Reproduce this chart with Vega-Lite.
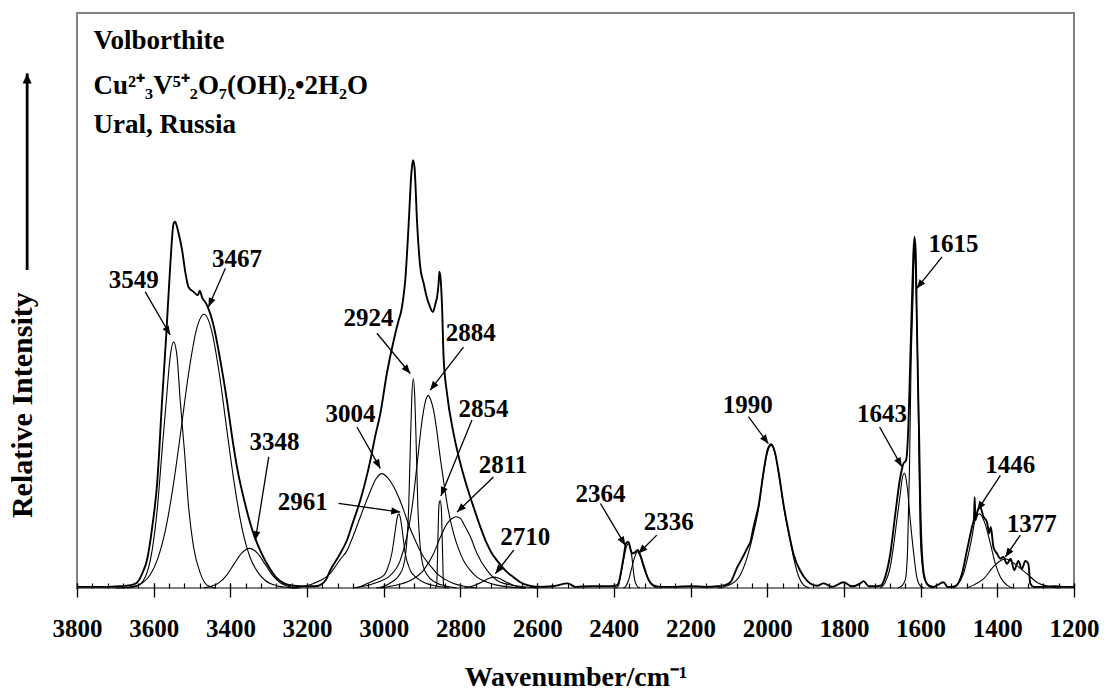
{
  "$schema": "https://vega.github.io/schema/vega-lite/v6.json",
  "width": 997,
  "height": 575,
  "autosize": {"type": "none"},
  "padding": {"left": 77, "top": 13, "right": 31, "bottom": 105},
  "background": "white",
  "config": {
    "view": {"stroke": "#808080", "strokeWidth": 2},
    "axis": {"labelFont": "Liberation Serif", "titleFont": "Liberation Serif"}
  },
  "resolve": {"axis": {"x": "independent"}},
  "datasets": {
    "spectrum": [
      {"wn":3800,"i":0.2},{"wn":3760,"i":0.2},{"wn":3720,"i":0.2},{"wn":3690,"i":0.3},{"wn":3660,"i":0.5},{"wn":3644,"i":0.9},{"wn":3630,"i":2.5},{"wn":3617,"i":5.0},{"wn":3604,"i":10.5},{"wn":3591,"i":18.2},{"wn":3578,"i":32.7},{"wn":3567,"i":44.3},{"wn":3557,"i":55.9},{"wn":3548,"i":63.4},{"wn":3544,"i":63.7},{"wn":3540,"i":63},{"wn":3535,"i":61.7},{"wn":3526,"i":58.8},{"wn":3517,"i":54.7},{"wn":3509,"i":52.3},{"wn":3496,"i":51.5},{"wn":3485,"i":50.9},{"wn":3480,"i":51.7},{"wn":3474,"i":50.6},{"wn":3461,"i":49.2},{"wn":3443,"i":45.4},{"wn":3426,"i":39.5},{"wn":3409,"i":32.6},{"wn":3396,"i":26.5},{"wn":3383,"i":21.1},{"wn":3360,"i":14.2},{"wn":3340,"i":9.5},{"wn":3320,"i":6.2},{"wn":3300,"i":3.7},{"wn":3280,"i":1.8},{"wn":3260,"i":0.8},{"wn":3235,"i":0.4},{"wn":3200,"i":0.3},{"wn":3180,"i":0.3},{"wn":3166,"i":0.5},{"wn":3150,"i":1.5},{"wn":3140,"i":3.0},{"wn":3118,"i":5.5},{"wn":3096,"i":8.3},{"wn":3080,"i":11.5},{"wn":3061,"i":15.3},{"wn":3048,"i":18.5},{"wn":3035,"i":22.2},{"wn":3022,"i":26.5},{"wn":3009,"i":30.3},{"wn":2992,"i":37.3},{"wn":2974,"i":43.1},{"wn":2961,"i":46.6},{"wn":2955,"i":48},{"wn":2950,"i":50},{"wn":2944,"i":53.5},{"wn":2935,"i":63.4},{"wn":2928,"i":72.1},{"wn":2924,"i":74.4},{"wn":2920,"i":73.3},{"wn":2913,"i":63.4},{"wn":2905,"i":55.9},{"wn":2896,"i":53},{"wn":2888,"i":50.6},{"wn":2880,"i":49},{"wn":2872,"i":48},{"wn":2865,"i":49.5},{"wn":2861,"i":50.6},{"wn":2857,"i":53},{"wn":2855,"i":55},{"wn":2852,"i":54},{"wn":2848,"i":48.9},{"wn":2844,"i":40.2},{"wn":2835,"i":33.8},{"wn":2818,"i":26.9},{"wn":2800,"i":21.6},{"wn":2783,"i":17.6},{"wn":2766,"i":14.1},{"wn":2748,"i":10.6},{"wn":2731,"i":7.7},{"wn":2718,"i":6},{"wn":2705,"i":4.8},{"wn":2690,"i":3.6},{"wn":2679,"i":2.8},{"wn":2660,"i":1.8},{"wn":2644,"i":1.0},{"wn":2620,"i":0.4},{"wn":2600,"i":0.2},{"wn":2560,"i":0.3},{"wn":2520,"i":0.8},{"wn":2500,"i":0.2},{"wn":2460,"i":0.3},{"wn":2420,"i":0.3},{"wn":2395,"i":0.4},{"wn":2388,"i":0.8},{"wn":2383,"i":2.2},{"wn":2375,"i":5.2},{"wn":2368,"i":7.8},{"wn":2362,"i":8.0},{"wn":2356,"i":6.6},{"wn":2352,"i":6.0},{"wn":2345,"i":6.2},{"wn":2338,"i":6.6},{"wn":2331,"i":5.7},{"wn":2322,"i":3.8},{"wn":2309,"i":1.4},{"wn":2295,"i":0.4},{"wn":2280,"i":0.2},{"wn":2240,"i":0.2},{"wn":2200,"i":0.3},{"wn":2160,"i":0.2},{"wn":2130,"i":0.3},{"wn":2110,"i":0.5},{"wn":2096,"i":1.0},{"wn":2079,"i":3.5},{"wn":2062,"i":5.6},{"wn":2050,"i":7.2},{"wn":2044,"i":8.0},{"wn":2036,"i":10.5},{"wn":2022,"i":14.5},{"wn":2010,"i":20},{"wn":2000,"i":23.8},{"wn":1990,"i":25},{"wn":1980,"i":23.6},{"wn":1970,"i":20},{"wn":1957,"i":14.3},{"wn":1944,"i":9.7},{"wn":1931,"i":5.8},{"wn":1914,"i":3.0},{"wn":1895,"i":1.2},{"wn":1870,"i":0.4},{"wn":1853,"i":0.8},{"wn":1830,"i":0.2},{"wn":1801,"i":1.0},{"wn":1780,"i":0.3},{"wn":1757,"i":0.8},{"wn":1749,"i":1.2},{"wn":1735,"i":0.3},{"wn":1720,"i":0.3},{"wn":1705,"i":0.4},{"wn":1692,"i":2.0},{"wn":1679,"i":6.0},{"wn":1666,"i":12.9},{"wn":1653,"i":19.3},{"wn":1645,"i":21.6},{"wn":1638,"i":22.2},{"wn":1632,"i":28},{"wn":1627,"i":39.6},{"wn":1623,"i":48.9},{"wn":1619,"i":58},{"wn":1616,"i":61.1},{"wn":1613,"i":58.7},{"wn":1610,"i":47.2},{"wn":1607,"i":36},{"wn":1604,"i":26.9},{"wn":1601,"i":15.3},{"wn":1597,"i":6.6},{"wn":1590,"i":1.9},{"wn":1580,"i":0.5},{"wn":1566,"i":0.2},{"wn":1540,"i":1.0},{"wn":1530,"i":0.2},{"wn":1520,"i":0.2},{"wn":1510,"i":0.3},{"wn":1492,"i":2.5},{"wn":1479,"i":6.6},{"wn":1466,"i":10.6},{"wn":1461,"i":12},{"wn":1459,"i":15.8},{"wn":1457,"i":11.8},{"wn":1451,"i":13.5},{"wn":1445,"i":14.1},{"wn":1436,"i":12.4},{"wn":1427,"i":11.5},{"wn":1421,"i":9.5},{"wn":1417,"i":10.6},{"wn":1410,"i":7.1},{"wn":1401,"i":6},{"wn":1392,"i":5.1},{"wn":1384,"i":5.4},{"wn":1375,"i":4.2},{"wn":1365,"i":5.1},{"wn":1356,"i":3.1},{"wn":1345,"i":4.7},{"wn":1336,"i":3.3},{"wn":1327,"i":4.7},{"wn":1319,"i":4.2},{"wn":1314,"i":0.8},{"wn":1305,"i":0.2},{"wn":1280,"i":0.2},{"wn":1250,"i":0.3},{"wn":1230,"i":0.2},{"wn":1200,"i":0.2}
    ],
    "bands": [
      {"band":"3549","wn":3670,"i":0},{"band":"3549","wn":3644,"i":0.3},{"band":"3549","wn":3622,"i":1.9},{"band":"3549","wn":3604,"i":6.6},{"band":"3549","wn":3591,"i":13.5},{"band":"3549","wn":3578,"i":24},{"band":"3549","wn":3567,"i":32.7},{"band":"3549","wn":3557,"i":40.2},{"band":"3549","wn":3548,"i":42.8},{"band":"3549","wn":3539,"i":40.2},{"band":"3549","wn":3531,"i":32.7},{"band":"3549","wn":3520,"i":24},{"band":"3549","wn":3509,"i":14.1},{"band":"3549","wn":3496,"i":7.1},{"band":"3549","wn":3478,"i":2.5},{"band":"3549","wn":3461,"i":0.5},{"band":"3549","wn":3440,"i":0},
      {"band":"3467","wn":3700,"i":0},{"band":"3467","wn":3659,"i":0.2},{"band":"3467","wn":3629,"i":0.9},{"band":"3467","wn":3609,"i":2.3},{"band":"3467","wn":3589,"i":5.2},{"band":"3467","wn":3569,"i":10.2},{"band":"3467","wn":3549,"i":17.8},{"band":"3467","wn":3529,"i":27.4},{"band":"3467","wn":3509,"i":37.3},{"band":"3467","wn":3489,"i":44.8},{"band":"3467","wn":3469,"i":47.6},{"band":"3467","wn":3449,"i":44.8},{"band":"3467","wn":3429,"i":37.3},{"band":"3467","wn":3409,"i":27.4},{"band":"3467","wn":3389,"i":17.8},{"band":"3467","wn":3369,"i":10.2},{"band":"3467","wn":3349,"i":5.4},{"band":"3467","wn":3329,"i":2.8},{"band":"3467","wn":3309,"i":1.3},{"band":"3467","wn":3279,"i":0.4},{"band":"3467","wn":3249,"i":0.1},{"band":"3467","wn":3220,"i":0},
      {"band":"3348","wn":3470,"i":0},{"band":"3348","wn":3450,"i":0.3},{"band":"3348","wn":3430,"i":0.9},{"band":"3348","wn":3410,"i":2.2},{"band":"3348","wn":3390,"i":4.2},{"band":"3348","wn":3370,"i":6.1},{"band":"3348","wn":3350,"i":6.9},{"band":"3348","wn":3330,"i":6.1},{"band":"3348","wn":3310,"i":4.2},{"band":"3348","wn":3290,"i":2.2},{"band":"3348","wn":3270,"i":0.9},{"band":"3348","wn":3250,"i":0.3},{"band":"3348","wn":3230,"i":0},
      {"band":"3004","wn":3240,"i":0},{"band":"3004","wn":3183,"i":0.8},{"band":"3004","wn":3140,"i":2.5},{"band":"3004","wn":3113,"i":5},{"band":"3004","wn":3096,"i":6.5},{"band":"3004","wn":3080,"i":9},{"band":"3004","wn":3061,"i":12.4},{"band":"3004","wn":3040,"i":16},{"band":"3004","wn":3020,"i":19},{"band":"3004","wn":3005,"i":19.9},{"band":"3004","wn":2990,"i":19.2},{"band":"3004","wn":2974,"i":17.6},{"band":"3004","wn":2960,"i":15.6},{"band":"3004","wn":2948,"i":13.5},{"band":"3004","wn":2935,"i":11},{"band":"3004","wn":2922,"i":8.9},{"band":"3004","wn":2909,"i":7},{"band":"3004","wn":2896,"i":5.4},{"band":"3004","wn":2880,"i":4},{"band":"3004","wn":2861,"i":2.5},{"band":"3004","wn":2840,"i":1.5},{"band":"3004","wn":2818,"i":0.8},{"band":"3004","wn":2790,"i":0.3},{"band":"3004","wn":2760,"i":0},
      {"band":"2961","wn":3070,"i":0},{"band":"2961","wn":3026,"i":1.3},{"band":"2961","wn":3000,"i":2.2},{"band":"2961","wn":2992,"i":3.1},{"band":"2961","wn":2979,"i":6},{"band":"2961","wn":2970,"i":10},{"band":"2961","wn":2965,"i":12.2},{"band":"2961","wn":2961,"i":12.9},{"band":"2961","wn":2957,"i":12.3},{"band":"2961","wn":2953,"i":10.6},{"band":"2961","wn":2944,"i":6},{"band":"2961","wn":2931,"i":3.1},{"band":"2961","wn":2915,"i":1.8},{"band":"2961","wn":2896,"i":1},{"band":"2961","wn":2860,"i":0.3},{"band":"2961","wn":2830,"i":0},
      {"band":"2924","wn":3020,"i":0},{"band":"2924","wn":3000,"i":0.3},{"band":"2924","wn":2980,"i":1},{"band":"2924","wn":2960,"i":2.2},{"band":"2924","wn":2948,"i":4},{"band":"2924","wn":2940,"i":8},{"band":"2924","wn":2935,"i":14},{"band":"2924","wn":2931,"i":24},{"band":"2924","wn":2927,"i":33},{"band":"2924","wn":2923,"i":36.4},{"band":"2924","wn":2919,"i":33},{"band":"2924","wn":2915,"i":24},{"band":"2924","wn":2911,"i":14},{"band":"2924","wn":2906,"i":8},{"band":"2924","wn":2898,"i":4},{"band":"2924","wn":2886,"i":2.2},{"band":"2924","wn":2866,"i":1},{"band":"2924","wn":2836,"i":0.3},{"band":"2924","wn":2810,"i":0},
      {"band":"2884","wn":3080,"i":0},{"band":"2884","wn":3026,"i":0.8},{"band":"2884","wn":2983,"i":2.2},{"band":"2884","wn":2957,"i":4.8},{"band":"2884","wn":2940,"i":8.9},{"band":"2884","wn":2926,"i":14.1},{"band":"2884","wn":2913,"i":21.6},{"band":"2884","wn":2900,"i":29.2},{"band":"2884","wn":2892,"i":32.3},{"band":"2884","wn":2884,"i":33.5},{"band":"2884","wn":2877,"i":32.6},{"band":"2884","wn":2870,"i":30.9},{"band":"2884","wn":2862,"i":27.5},{"band":"2884","wn":2853,"i":22.8},{"band":"2884","wn":2844,"i":18.6},{"band":"2884","wn":2835,"i":14.7},{"band":"2884","wn":2818,"i":9.5},{"band":"2884","wn":2805,"i":6.8},{"band":"2884","wn":2792,"i":4.8},{"band":"2884","wn":2775,"i":3.1},{"band":"2884","wn":2757,"i":1.9},{"band":"2884","wn":2730,"i":1},{"band":"2884","wn":2705,"i":0.5},{"band":"2884","wn":2660,"i":0.1},{"band":"2884","wn":2630,"i":0},
      {"band":"2854","wn":2866,"i":0},{"band":"2854","wn":2862,"i":0.5},{"band":"2854","wn":2859,"i":8},{"band":"2854","wn":2856,"i":14.5},{"band":"2854","wn":2853,"i":15.2},{"band":"2854","wn":2850,"i":14},{"band":"2854","wn":2847,"i":7},{"band":"2854","wn":2844,"i":0.5},{"band":"2854","wn":2840,"i":0},
      {"band":"2811","wn":3010,"i":0},{"band":"2811","wn":2975,"i":0.4},{"band":"2811","wn":2931,"i":1.3},{"band":"2811","wn":2896,"i":3.1},{"band":"2811","wn":2870,"i":6},{"band":"2811","wn":2852,"i":8.9},{"band":"2811","wn":2835,"i":11.2},{"band":"2811","wn":2822,"i":12.1},{"band":"2811","wn":2811,"i":12.4},{"band":"2811","wn":2800,"i":12.1},{"band":"2811","wn":2792,"i":11.2},{"band":"2811","wn":2774,"i":8.9},{"band":"2811","wn":2757,"i":6},{"band":"2811","wn":2731,"i":3.1},{"band":"2811","wn":2696,"i":1},{"band":"2811","wn":2645,"i":0.3},{"band":"2811","wn":2600,"i":0},
      {"band":"2710","wn":2790,"i":0},{"band":"2710","wn":2770,"i":0.3},{"band":"2710","wn":2745,"i":1.0},{"band":"2710","wn":2725,"i":1.7},{"band":"2710","wn":2712,"i":1.9},{"band":"2710","wn":2700,"i":1.7},{"band":"2710","wn":2680,"i":1.0},{"band":"2710","wn":2655,"i":0.3},{"band":"2710","wn":2630,"i":0},
      {"band":"2364","wn":2395,"i":0},{"band":"2364","wn":2388,"i":0.4},{"band":"2364","wn":2383,"i":1.9},{"band":"2364","wn":2375,"i":4.8},{"band":"2364","wn":2368,"i":7},{"band":"2364","wn":2362,"i":7.7},{"band":"2364","wn":2357,"i":7},{"band":"2364","wn":2353,"i":5.4},{"band":"2364","wn":2347,"i":1.9},{"band":"2364","wn":2340,"i":0.4},{"band":"2364","wn":2332,"i":0},
      {"band":"2336","wn":2375,"i":0},{"band":"2336","wn":2368,"i":0.4},{"band":"2336","wn":2362,"i":1.3},{"band":"2336","wn":2353,"i":3.6},{"band":"2336","wn":2345,"i":5.5},{"band":"2336","wn":2338,"i":6.3},{"band":"2336","wn":2331,"i":5.5},{"band":"2336","wn":2322,"i":3.6},{"band":"2336","wn":2309,"i":1.3},{"band":"2336","wn":2300,"i":0.5},{"band":"2336","wn":2288,"i":0},
      {"band":"1990","wn":2130,"i":0},{"band":"1990","wn":2096,"i":0.6},{"band":"1990","wn":2070,"i":2.3},{"band":"1990","wn":2053,"i":5.2},{"band":"1990","wn":2036,"i":9.5},{"band":"1990","wn":2022,"i":14.1},{"band":"1990","wn":2010,"i":19.9},{"band":"1990","wn":2000,"i":23.5},{"band":"1990","wn":1990,"i":24.8},{"band":"1990","wn":1980,"i":23.5},{"band":"1990","wn":1970,"i":19.9},{"band":"1990","wn":1957,"i":14.1},{"band":"1990","wn":1944,"i":9.5},{"band":"1990","wn":1931,"i":5.2},{"band":"1990","wn":1918,"i":2.0},{"band":"1990","wn":1905,"i":0.5},{"band":"1990","wn":1890,"i":0},
      {"band":"1643","wn":1705,"i":0},{"band":"1643","wn":1692,"i":1},{"band":"1643","wn":1679,"i":3.7},{"band":"1643","wn":1671,"i":7.1},{"band":"1643","wn":1662,"i":11.8},{"band":"1643","wn":1653,"i":16.4},{"band":"1643","wn":1648,"i":19},{"band":"1643","wn":1643,"i":20},{"band":"1643","wn":1638,"i":19},{"band":"1643","wn":1634,"i":17},{"band":"1643","wn":1627,"i":11.8},{"band":"1643","wn":1618,"i":6},{"band":"1643","wn":1610,"i":1.9},{"band":"1643","wn":1600,"i":0.3},{"band":"1643","wn":1590,"i":0},
      {"band":"1615","wn":1660,"i":0},{"band":"1615","wn":1650,"i":0.3},{"band":"1615","wn":1640,"i":1.4},{"band":"1615","wn":1634,"i":6.6},{"band":"1615","wn":1629,"i":21},{"band":"1615","wn":1625,"i":38.5},{"band":"1615","wn":1620,"i":50},{"band":"1615","wn":1616,"i":59},{"band":"1615","wn":1613,"i":55},{"band":"1615","wn":1610,"i":47},{"band":"1615","wn":1608,"i":40.8},{"band":"1615","wn":1604,"i":21},{"band":"1615","wn":1601,"i":9.5},{"band":"1615","wn":1595,"i":3.5},{"band":"1615","wn":1590,"i":1.5},{"band":"1615","wn":1580,"i":0.4},{"band":"1615","wn":1565,"i":0},
      {"band":"1446","wn":1515,"i":0},{"band":"1446","wn":1505,"i":0.5},{"band":"1446","wn":1488,"i":2.5},{"band":"1446","wn":1475,"i":6},{"band":"1446","wn":1466,"i":8.9},{"band":"1446","wn":1458,"i":11.8},{"band":"1446","wn":1446,"i":12.9},{"band":"1446","wn":1432,"i":11.2},{"band":"1446","wn":1418,"i":7.7},{"band":"1446","wn":1405,"i":4.2},{"band":"1446","wn":1392,"i":1.9},{"band":"1446","wn":1375,"i":0.5},{"band":"1446","wn":1360,"i":0},
      {"band":"1377","wn":1480,"i":0},{"band":"1377","wn":1462,"i":0.5},{"band":"1377","wn":1436,"i":1.6},{"band":"1377","wn":1410,"i":3.7},{"band":"1377","wn":1395,"i":4.6},{"band":"1377","wn":1379,"i":5.1},{"band":"1377","wn":1365,"i":4.7},{"band":"1377","wn":1349,"i":3.9},{"band":"1377","wn":1323,"i":2.5},{"band":"1377","wn":1297,"i":1},{"band":"1377","wn":1262,"i":0.2},{"band":"1377","wn":1240,"i":0}
    ],
    "labels": [
      {"label":"3549","wn":3652,"i":53.5},{"label":"3467","wn":3383,"i":57.3},{"label":"3348","wn":3285,"i":25.4},{"label":"3004","wn":3087,"i":30.3},{"label":"2961","wn":3211,"i":14.9},{"label":"2924","wn":3040,"i":46.9},{"label":"2884","wn":2773,"i":44.3},{"label":"2854","wn":2740,"i":31.2},{"label":"2811","wn":2689,"i":21.4},{"label":"2710","wn":2631,"i":8.9},{"label":"2364","wn":2435,"i":16.4},{"label":"2336","wn":2257,"i":11.5},{"label":"1990","wn":2051,"i":31.8},{"label":"1643","wn":1701,"i":30.3},{"label":"1615","wn":1514,"i":59.9},{"label":"1446","wn":1366,"i":21.4},{"label":"1377","wn":1310,"i":11.2}
    ],
    "arrows": [
      {"label":"3549","wn":3622,"i":51.5,"wn2":3557,"i2":44,"heading":150},
      {"label":"3467","wn":3413,"i":55.6,"wn2":3457,"i2":48.9,"heading":203.5},
      {"label":"3348","wn":3300,"i":22.8,"wn2":3335,"i2":8.3,"heading":189},
      {"label":"3004","wn":3070,"i":28,"wn2":3009,"i2":20.8,"heading":150.7},
      {"label":"2961","wn":3118,"i":14.7,"wn2":2957,"i2":13.2,"heading":97.8},
      {"label":"2924","wn":3018,"i":44.3,"wn2":2931,"i2":37.3,"heading":140.2},
      {"label":"2884","wn":2792,"i":41.9,"wn2":2879,"i2":34.4,"heading":217.6},
      {"label":"2854","wn":2770,"i":29.2,"wn2":2851,"i2":16,"heading":202.2},
      {"label":"2811","wn":2714,"i":19.3,"wn2":2809,"i2":13.2,"heading":226.3},
      {"label":"2710","wn":2661,"i":6.6,"wn2":2709,"i2":2.5,"heading":218.1},
      {"label":"2364","wn":2435,"i":14.7,"wn2":2370,"i2":7.4,"heading":149},
      {"label":"2336","wn":2288,"i":9.2,"wn2":2336,"i2":6,"heading":225.2},
      {"label":"1990","wn":2049,"i":29.8,"wn2":1997,"i2":25.1,"heading":143.1},
      {"label":"1643","wn":1707,"i":28,"wn2":1649,"i2":21.1,"heading":150.8},
      {"label":"1615","wn":1544,"i":57.6,"wn2":1610,"i2":52.1,"heading":218.3},
      {"label":"1446","wn":1392,"i":19.6,"wn2":1452,"i2":13.5,"heading":213},
      {"label":"1377","wn":1340,"i":9.2,"wn2":1379,"i2":5.4,"heading":214.7}
    ],
    "yarrow": [
      {"wn":3930,"i":55.3,"wn2":3930,"i2":89.5,"heading":0}
    ],
    "ytitle": [
      {"text":"Relative Intensity","wn":3917,"i":31.8}
    ],
    "notes": [
      {"text":"Volborthite","wn":3757,"i":93.7},
      {"text":"Cu²⁺₃V⁵⁺₂O₇(OH)₂•2H₂O","wn":3757,"i":86.0},
      {"text":"Ural, Russia","wn":3757,"i":79.1}
    ]
  },
  "layer": [
    {
      "data": {"name": "bands"},
      "mark": {"type": "line", "color": "#000000", "strokeWidth": 1.1, "interpolate": "monotone"},
      "encoding": {
        "x": {"field": "wn", "type": "quantitative",
          "scale": {"domain": [1200, 3800], "reverse": true, "nice": false, "zero": false},
          "axis": {"orient": "bottom", "offset": -5,
            "values": [3800,3600,3400,3200,3000,2800,2600,2400,2200,2000,1800,1600,1400,1200],
            "format": "d", "labelFontSize": 25, "labelFontWeight": "bold", "labelColor": "#000000",
            "labelBaseline": "alphabetic", "labelPadding": 39, "labelFlush": false, "labelOverlap": false,
            "tickSize": 14, "tickColor": "#000000", "tickWidth": 1.3,
            "domain": false, "grid": false,
            "title": "Wavenumber/cm⁻¹", "titleFontSize": 28, "titleFontWeight": "bold", "titleColor": "#000000",
            "titleBaseline": "alphabetic", "titleY": 102}},
        "y": {"field": "i", "type": "quantitative",
          "scale": {"domain": [0, 100], "nice": false, "zero": true},
          "axis": null},
        "detail": {"field": "band", "type": "nominal"}
      }
    },
    {
      "data": {"name": "spectrum"},
      "mark": {"type": "line", "color": "#000000", "strokeWidth": 1.9, "interpolate": "monotone"},
      "encoding": {
        "x": {"field": "wn", "type": "quantitative",
          "scale": {"domain": [1200, 3800], "reverse": true, "nice": false, "zero": false},
          "axis": {"orient": "bottom", "offset": -5, "tickSize": 5, "tickColor": "#000000", "tickWidth": 1.2,
            "labels": false, "domain": false, "grid": false, "title": null,
            "values": [1200,1240,1280,1320,1360,1400,1440,1480,1520,1560,1600,1640,1680,1720,1760,1800,1840,1880,1920,1960,2000,2040,2080,2120,2160,2200,2240,2280,2320,2360,2400,2440,2480,2520,2560,2600,2640,2680,2720,2760,2800,2840,2880,2920,2960,3000,3040,3080,3120,3160,3200,3240,3280,3320,3360,3400,3440,3480,3520,3560,3600,3640,3680,3720,3760,3800]}},
        "y": {"field": "i", "type": "quantitative", "scale": {"domain": [0, 100], "nice": false}, "axis": null}
      }
    },
    {
      "mark": {"type": "rule", "color": "#000000", "strokeWidth": 1.6},
      "encoding": {
        "y": {"datum": 0, "type": "quantitative", "scale": {"domain": [0, 100], "nice": false}, "axis": null}
      }
    },
    {
      "data": {"name": "arrows"},
      "mark": {"type": "rule", "color": "#000000", "strokeWidth": 1.3},
      "encoding": {
        "x": {"field": "wn", "type": "quantitative", "scale": {"domain": [1200, 3800], "reverse": true, "nice": false, "zero": false}, "axis": null},
        "y": {"field": "i", "type": "quantitative", "scale": {"domain": [0, 100], "nice": false}, "axis": null},
        "x2": {"field": "wn2"},
        "y2": {"field": "i2"}
      }
    },
    {
      "data": {"name": "arrows"},
      "mark": {"type": "point", "shape": "M0,0L-0.4,1L0.4,1Z", "filled": true, "color": "#000000", "opacity": 1, "size": 324, "strokeWidth": 0},
      "encoding": {
        "x": {"field": "wn2", "type": "quantitative", "scale": {"domain": [1200, 3800], "reverse": true, "nice": false, "zero": false}, "axis": null},
        "y": {"field": "i2", "type": "quantitative", "scale": {"domain": [0, 100], "nice": false}, "axis": null},
        "angle": {"field": "heading", "type": "quantitative", "scale": null}
      }
    },
    {
      "data": {"name": "yarrow"},
      "mark": {"type": "rule", "color": "#000000", "strokeWidth": 2.8},
      "encoding": {
        "x": {"field": "wn", "type": "quantitative", "scale": {"domain": [1200, 3800], "reverse": true, "nice": false, "zero": false}, "axis": null},
        "y": {"field": "i", "type": "quantitative", "scale": {"domain": [0, 100], "nice": false}, "axis": null},
        "x2": {"field": "wn2"},
        "y2": {"field": "i2"}
      }
    },
    {
      "data": {"name": "yarrow"},
      "mark": {"type": "point", "shape": "M0,0L-0.45,1L0.45,1Z", "filled": true, "color": "#000000", "opacity": 1, "size": 400, "strokeWidth": 0},
      "encoding": {
        "x": {"field": "wn2", "type": "quantitative", "scale": {"domain": [1200, 3800], "reverse": true, "nice": false, "zero": false}, "axis": null},
        "y": {"field": "i2", "type": "quantitative", "scale": {"domain": [0, 100], "nice": false}, "axis": null},
        "angle": {"field": "heading", "type": "quantitative", "scale": null}
      }
    },
    {
      "data": {"name": "ytitle"},
      "mark": {"type": "text", "font": "Liberation Serif", "fontWeight": "bold", "fontSize": 30, "align": "center", "baseline": "alphabetic", "angle": 270, "color": "#000000"},
      "encoding": {
        "x": {"field": "wn", "type": "quantitative", "scale": {"domain": [1200, 3800], "reverse": true, "nice": false, "zero": false}, "axis": null},
        "y": {"field": "i", "type": "quantitative", "scale": {"domain": [0, 100], "nice": false}, "axis": null},
        "text": {"field": "text", "type": "nominal"}
      }
    },
    {
      "data": {"name": "labels"},
      "mark": {"type": "text", "font": "Liberation Serif", "fontWeight": "bold", "fontSize": 25, "align": "center", "baseline": "middle", "color": "#000000"},
      "encoding": {
        "x": {"field": "wn", "type": "quantitative", "scale": {"domain": [1200, 3800], "reverse": true, "nice": false, "zero": false}, "axis": null},
        "y": {"field": "i", "type": "quantitative", "scale": {"domain": [0, 100], "nice": false}, "axis": null},
        "text": {"field": "label", "type": "nominal"}
      }
    },
    {
      "data": {"name": "notes"},
      "mark": {"type": "text", "font": "Liberation Serif", "fontWeight": "bold", "fontSize": 27, "align": "left", "baseline": "alphabetic", "color": "#000000"},
      "encoding": {
        "x": {"field": "wn", "type": "quantitative", "scale": {"domain": [1200, 3800], "reverse": true, "nice": false, "zero": false}, "axis": null},
        "y": {"field": "i", "type": "quantitative", "scale": {"domain": [0, 100], "nice": false}, "axis": null},
        "text": {"field": "text", "type": "nominal"}
      }
    }
  ]
}
